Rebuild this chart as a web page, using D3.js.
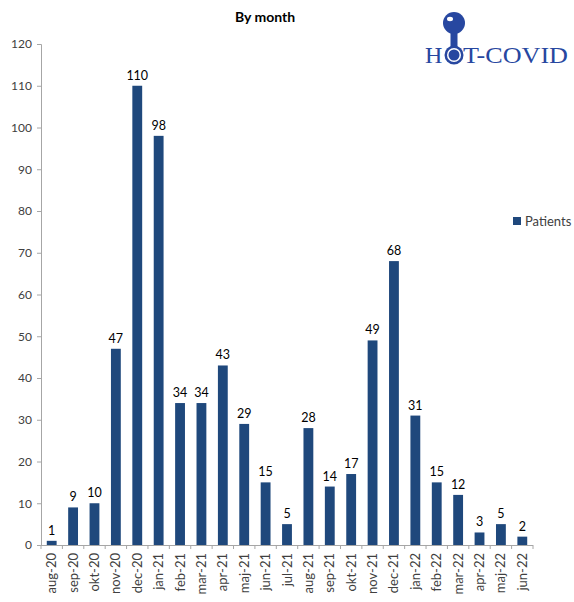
<!DOCTYPE html>
<html>
<head>
<meta charset="utf-8">
<script src="https://cdnjs.cloudflare.com/ajax/libs/d3/7.9.0/d3.min.js"></script>
<style>
  html, body { margin: 0; padding: 0; background: #fff; }
  svg { display: block; }
</style>
</head>
<body>
<div id="chart"></div>
<script>
// Monthly patients, aug-20 .. jun-22
const months = ['aug-20','sep-20','okt-20','nov-20','dec-20','jan-21','feb-21','mar-21','apr-21','maj-21','jun-21','jul-21',
                'aug-21','sep-21','okt-21','nov-21','dec-21','jan-22','feb-22','mar-22','apr-22','maj-22','jun-22'];
const patients = [1, 9, 10, 47, 110, 98, 34, 34, 43, 29, 15, 5, 28, 14, 17, 49, 68, 31, 15, 12, 3, 5, 2];
const yTicks = [0, 10, 20, 30, 40, 50, 60, 70, 80, 90, 100, 110, 120];

const W = 574, H = 602;
const barColor = '#1f487c';
const textColor = '#404040';
const axisColor = '#a6a6a6';
const font = 'Lato, "Liberation Sans", sans-serif';

const svg = d3.select('#chart').append('svg').attr('width', W).attr('height', H);

const x = d3.scaleBand().domain(months).range([41, 533]).paddingInner(0.54).paddingOuter(0.27);
const y = d3.scaleLinear().domain([0, 120]).range([545, 44]);

// title
svg.append('text').attr('x', 265).attr('y', 22).attr('text-anchor', 'middle')
  .style('font', `bold 14px ${font}`).attr('fill', '#000').text('By month');

// y axis
const gy = svg.append('g').attr('transform', 'translate(41,0)')
  .call(d3.axisLeft(y).tickValues(yTicks).tickSize(4).tickPadding(5));
gy.select('.domain').attr('stroke', axisColor);
gy.selectAll('.tick line').attr('stroke', axisColor);
gy.selectAll('.tick text').style('font', `12px ${font}`).attr('fill', textColor);

// x axis: ticks at band boundaries
const x0 = 41;
const gx = svg.append('g');
gx.append('line').attr('x1', x0).attr('x2', 533).attr('y1', 545.5).attr('y2', 545.5).attr('stroke', axisColor);
gx.selectAll('line.tk').data(d3.range(months.length + 1)).join('line').attr('class', 'tk')
  .attr('x1', i => x0 + i * (492 / months.length)).attr('x2', i => x0 + i * (492 / months.length))
  .attr('y1', 545).attr('y2', 549).attr('stroke', axisColor);
gx.selectAll('text').data(months).join('text')
  .attr('transform', d => `translate(${x(d) + x.bandwidth() / 2 + 4.5},553) rotate(-90)`)
  .attr('text-anchor', 'end')
  .style('font', `13px ${font}`).attr('fill', textColor).text(d => d);

// bars
svg.append('g').selectAll('rect').data(patients).join('rect')
  .attr('x', (d, i) => x(months[i]))
  .attr('y', d => y(d))
  .attr('width', x.bandwidth())
  .attr('height', d => y(0) - y(d))
  .attr('fill', barColor);

// value labels
svg.append('g').selectAll('text').data(patients).join('text')
  .attr('x', (d, i) => x(months[i]) + x.bandwidth() / 2)
  .attr('y', d => y(d) - 6)
  .attr('text-anchor', 'middle')
  .style('font', `12.5px ${font}`).attr('fill', '#000').text(d => d);

// legend
svg.append('rect').attr('x', 513).attr('y', 217).attr('width', 8).attr('height', 8).attr('fill', barColor);
svg.append('text').attr('x', 525).attr('y', 226).style('font', `13px ${font}`).attr('fill', textColor).text('Patients');

// HOT-COVID logo
const logo = svg.append('g');
const logoBlue = '#2747a0';
logo.append('text').attr('x', 425).attr('y', 63).style('font', '24px "Liberation Serif", serif')
  .attr('fill', logoBlue).attr('textLength', 18).text('H');
logo.append('text').attr('x', 463).attr('y', 63).style('font', '24px "Liberation Serif", serif')
  .attr('fill', logoBlue).attr('textLength', 105).attr('lengthAdjust', 'spacingAndGlyphs').text('T-COVID');
logo.append('rect').attr('x', 450.5).attr('y', 28).attr('width', 7).attr('height', 20).attr('fill', logoBlue);
logo.append('circle').attr('cx', 454).attr('cy', 23).attr('r', 11).attr('fill', logoBlue);
logo.append('ellipse').attr('cx', 450).attr('cy', 19).attr('rx', 3).attr('ry', 2.2).attr('fill', '#fff');
logo.append('circle').attr('cx', 454).attr('cy', 55).attr('r', 9.5).attr('fill', logoBlue);
logo.append('circle').attr('cx', 454).attr('cy', 55).attr('r', 7).attr('fill', '#fff');
logo.append('circle').attr('cx', 454).attr('cy', 55).attr('r', 5.5).attr('fill', logoBlue);
</script>
</body>
</html>
